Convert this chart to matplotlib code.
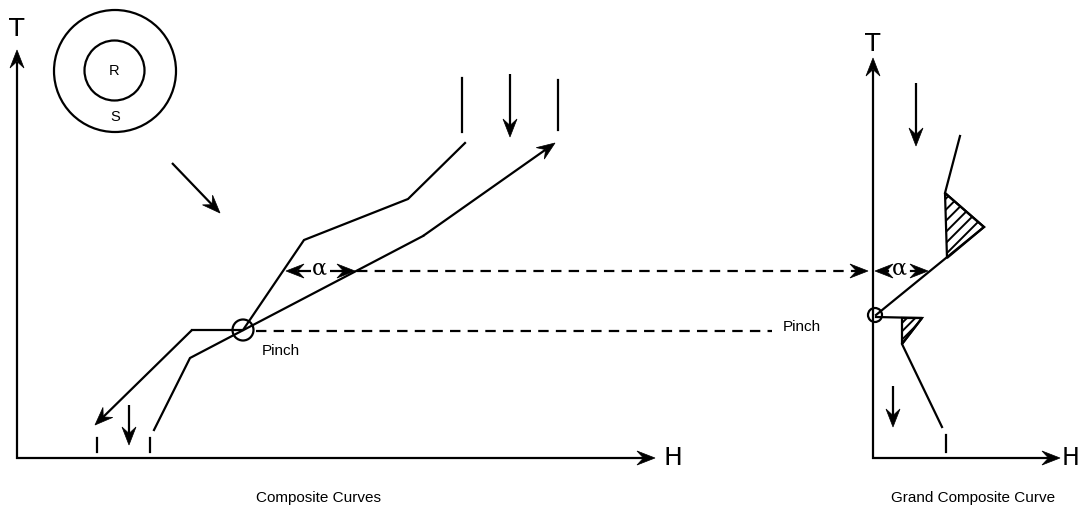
import numpy as np
import matplotlib
matplotlib.use("Agg")
import matplotlib.pyplot as plt
from matplotlib.patches import Polygon, Circle

plt.rcParams['lines.scale_dashes'] = False
plt.rcParams['hatch.linewidth'] = 1.4
plt.rcParams['font.family'] = ['Liberation Sans', 'DejaVu Sans']

# ---- diagram data (pixel-space sketch coordinates) ----
# Composite curves
hot_x = [465, 408, 304, 243, 192, 95]
hot_y = [143, 199, 240, 330, 330, 425]
cold_x = [154, 190, 423, 555]
cold_y = [430, 358, 236, 143]
pinch_pt = (243, 330)
alpha_y = 271
# Grand composite curve
gcc_top_x = [960, 945, 984, 876]
gcc_top_y = [136, 193, 227, 315]
gcc_bot_x = [876, 922, 902, 942]
gcc_bot_y = [317, 318, 344, 427]
hatch_upper_x = [945, 984, 947]
hatch_upper_y = [193, 227, 258]
hatch_lower_x = [902, 922, 902]
hatch_lower_y = [318, 318, 344]
gcc_pinch = (875, 315)
# Axes of the two diagrams
cc_origin = (17, 458)
cc_T_tip = 50
cc_H_tip = 655
gcc_origin = (873, 458)
gcc_T_tip = 58
gcc_H_tip = 1060
captions = ["Composite Curves", "Grand Composite Curve"]

LW = 1.6
fig = plt.figure(figsize=(10.83, 5.08), dpi=100)
ax = fig.add_axes([0, 0, 1, 1])
ax.set_xlim(0, 1083)
ax.set_ylim(508, 0)
ax.axis('off')


def head(p0, p1, L=18, W=7, notch=6.5):
    p0 = np.array(p0, float); p1 = np.array(p1, float)
    u = (p1 - p0) / np.linalg.norm(p1 - p0)
    n = np.array([-u[1], u[0]])
    back = p1 - L * u
    pts = [p1, back + W * n, p1 - (L - notch) * u, back - W * n]
    ax.add_patch(Polygon(pts, closed=True, fc='black', ec='black', lw=0.5, zorder=5))
    return p1 - (L - notch) * u


def arrow(p0, p1, **kw):
    end = head(p0, p1, **kw)
    ax.plot([p0[0], end[0]], [p0[1], end[1]], color='black', lw=LW, solid_capstyle='butt')


def seg(xs, ys, **kw):
    ax.plot(xs, ys, color='black', lw=LW, solid_joinstyle='miter', **kw)


# ---- Composite curves axes ----
arrow((cc_origin[0], cc_origin[1] + 1), (cc_origin[0], cc_T_tip))
arrow((cc_origin[0] - 1, cc_origin[1]), (cc_H_tip, cc_origin[1]))
ax.text(cc_origin[0], 29, "T", fontsize=18, ha='center', va='center', family='DejaVu Sans')
ax.text(673, cc_origin[1], "H", fontsize=18, ha='center', va='center', family='DejaVu Sans')

# R / S circles
ax.add_patch(Circle((115, 71), 61, fill=False, ec='black', lw=LW))
ax.add_patch(Circle((114.5, 70.5), 30, fill=False, ec='black', lw=LW))
ax.text(114, 71, "R", fontsize=10.5, ha='center', va='center')
ax.text(115, 117, "S", fontsize=10.5, ha='center', va='center')
arrow((172, 163), (220, 213))

# hot composite
seg(hot_x[:-1], hot_y[:-1])
arrow((hot_x[-2], hot_y[-2]), (hot_x[-1], hot_y[-1]))
# cold composite
seg(cold_x[:-1], cold_y[:-1])
arrow((cold_x[-2], cold_y[-2]), (cold_x[-1], cold_y[-1]))
ax.add_patch(Circle(pinch_pt, 10.5, fill=False, ec='black', lw=LW, zorder=4))
ax.text(262, 351, "Pinch", fontsize=11, ha='left', va='center')

# top ticks / arrows
seg([462, 462], [78, 132])
seg([558, 558], [80, 130])
arrow((510, 74), (510, 137))
# bottom ticks / arrows
seg([97, 97], [438, 452])
seg([150, 150], [438, 452])
arrow((129, 405), (129, 445))

# pinch dashed line
ln, = ax.plot([256, 772], [331, 331], color='black', lw=LW)
ln.set_dashes([7.5, 5.2])
ax.text(783, 327, "Pinch", fontsize=11, ha='left', va='center')

# alpha markers (composite)
arrow((311, alpha_y), (286, alpha_y))
arrow((330, alpha_y), (355, alpha_y))
ax.text(319, alpha_y - 2, "α", fontsize=16, ha='center', va='center', family='DejaVu Serif')
ln2, = ax.plot([357, 857], [alpha_y, alpha_y], color='black', lw=LW)
ln2.set_dashes([7.5, 5.2])
head((850, alpha_y), (868, alpha_y))

# ---- Grand composite curve ----
arrow((gcc_origin[0], gcc_origin[1] + 1), (gcc_origin[0], gcc_T_tip))
arrow((gcc_origin[0] - 1, gcc_origin[1]), (gcc_H_tip, gcc_origin[1]))
ax.text(gcc_origin[0], 44, "T", fontsize=18, ha='center', va='center', family='DejaVu Sans')
ax.text(1071, gcc_origin[1], "H", fontsize=17, ha='center', va='center', family='DejaVu Sans')

seg(gcc_top_x, gcc_top_y)
seg(gcc_bot_x, gcc_bot_y)
ax.add_patch(Polygon(list(zip(hatch_upper_x, hatch_upper_y)), closed=True, fill=False,
                     ec='black', lw=LW, hatch='///'))
ax.add_patch(Polygon(list(zip(hatch_lower_x, hatch_lower_y)), closed=True, fill=False,
                     ec='black', lw=LW, hatch='////'))
ax.add_patch(Circle(gcc_pinch, 7, fill=False, ec='black', lw=LW, zorder=4))

arrow((916, 83), (916, 146))
arrow((893, 386), (893, 427))
seg([946, 946], [435, 452])

# alpha on GCC
head((890, alpha_y), (875, alpha_y))
head((910, alpha_y), (928, alpha_y))
ax.plot([882, 888], [alpha_y, alpha_y], color='black', lw=LW)
ax.plot([911, 918], [alpha_y, alpha_y], color='black', lw=LW)
ax.text(899, alpha_y - 2, "α", fontsize=16, ha='center', va='center', family='DejaVu Serif')

# captions
ax.text(318, 498, captions[0], fontsize=11, ha='center', va='center')
ax.text(973, 498, captions[1], fontsize=11, ha='center', va='center')

fig.savefig("out.png", dpi=100)
